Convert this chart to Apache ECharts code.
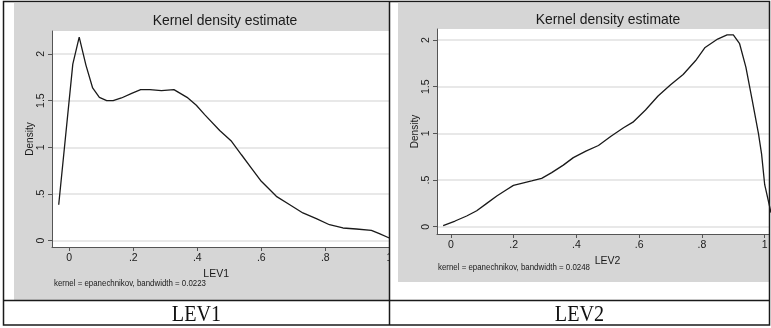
<!DOCTYPE html>
<html>
<head>
<meta charset="utf-8">
<script src="https://cdn.jsdelivr.net/npm/echarts@6/dist/echarts.min.js"></script>
<style>
  html, body { margin: 0; padding: 0; background: #fff; }
  #chart { width: 771px; height: 328px; }
</style>
</head>
<body>
<div id="chart"></div>
<script>
// Kernel density estimate of LEV1 (x = leverage, y = density)
const lev1X = [-0.033, 0.011, 0.031, 0.052, 0.073, 0.094, 0.117, 0.137, 0.163, 0.195,
               0.223, 0.252, 0.288, 0.327, 0.368, 0.397, 0.423, 0.47, 0.507, 0.538,
               0.569, 0.6, 0.647, 0.689, 0.73, 0.772, 0.813, 0.855, 0.897, 0.944,
               0.969, 1.0];
const lev1Y = [0.385, 1.89, 2.18, 1.88, 1.635, 1.535, 1.50, 1.50, 1.528, 1.578,
               1.617, 1.617, 1.606, 1.617, 1.535, 1.45, 1.35, 1.18, 1.064, 0.92,
               0.778, 0.636, 0.475, 0.385, 0.297, 0.236, 0.171, 0.136, 0.125, 0.111,
               0.075, 0.029];

// Kernel density estimate of LEV2
const lev2X = [-0.025, 0.013, 0.05, 0.082, 0.114, 0.146, 0.172, 0.199, 0.225, 0.257,
               0.289, 0.321, 0.358, 0.39, 0.43, 0.47, 0.51, 0.55, 0.58, 0.62,
               0.66, 0.70, 0.74, 0.78, 0.81, 0.85, 0.88, 0.90, 0.92, 0.94,
               0.96, 0.98, 0.99, 1.0, 1.02];
const lev2Y = [0.011, 0.061, 0.115, 0.171, 0.25, 0.329, 0.386, 0.443, 0.465, 0.49,
               0.518, 0.579, 0.66, 0.74, 0.81, 0.87, 0.97, 1.06, 1.12, 1.25,
               1.40, 1.52, 1.63, 1.78, 1.92, 2.01, 2.055, 2.055, 1.96, 1.71,
               1.36, 1.0, 0.78, 0.45, 0.15];

// Tick values shown on the axes
const xTicks = [0, 0.2, 0.4, 0.6, 0.8, 1];
const yTicks = [0, 0.5, 1, 1.5, 2];

// Text
const panelTitle = 'Kernel density estimate';
const yName = 'Density';
const note1 = 'kernel = epanechnikov, bandwidth = 0.0223';
const note2 = 'kernel = epanechnikov, bandwidth = 0.0248';
const captions = ['LEV1', 'LEV2'];

const SANS = '"Liberation Sans", Arial, sans-serif';
const SERIF = '"Liberation Serif", "Times New Roman", serif';
const INK = '#1a1a1a';
const AXIS = '#555';
const PANEL = '#d6d6d6';

// Stata-style tick text: drop the leading zero (".2", "1.5")
const fmt = v => String(v).replace(/^0\./, '.').replace(/^-0\./, '-.');

function xAxisOf(gridIndex, min, max, name, pad) {
  return {
    type: 'value', gridIndex, min, max,
    name, nameLocation: 'middle', nameGap: 15,
    nameTextStyle: { fontFamily: SANS, fontSize: 10.5, color: INK, padding: pad },
    axisLine: { show: true, onZero: false, lineStyle: { color: AXIS, width: 1 } },
    axisTick: { show: true, length: 4, lineStyle: { color: AXIS }, customValues: xTicks },
    axisLabel: { fontFamily: SANS, fontSize: 10.5, color: INK, margin: 6, formatter: fmt, customValues: xTicks },
    splitLine: { show: false }
  };
}

function yAxisOf(gridIndex, min, max) {
  return {
    type: 'value', gridIndex, min, max,
    name: yName, nameLocation: 'middle', nameGap: 16,
    nameTextStyle: { fontFamily: SANS, fontSize: 10, color: INK },
    axisLine: { show: true, onZero: false, lineStyle: { color: AXIS, width: 1 } },
    axisTick: { show: true, length: 4, lineStyle: { color: AXIS }, customValues: yTicks },
    axisLabel: { fontFamily: SANS, fontSize: 10.5, color: INK, margin: 5, rotate: 90, formatter: fmt, customValues: yTicks },
    splitLine: { show: true, lineStyle: { color: '#e0e0e0', width: 1.5 } }
  };
}

// Condensed text drawn by the graphic component (scaled about its anchor)
function textAt(x, y, text, font, size, align, sx, fill) {
  return {
    type: 'text', z: 101, silent: true, x, y, scaleX: sx, originX: 0, originY: 0,
    style: { text, fontFamily: font, fontSize: size, fill, align, verticalAlign: 'middle' }
  };
}

const chart = echarts.init(document.getElementById('chart'), null, { renderer: 'canvas' });

chart.setOption({
  animation: false,
  backgroundColor: '#fff',
  grid: [
    { left: 52, top: 31, width: 337.3, height: 216, show: true, backgroundColor: '#fff', borderWidth: 0 },
    { left: 437, top: 29, right: 2, bottom: 94, show: true, backgroundColor: '#fff', borderWidth: 0 }
  ],
  xAxis: [
    xAxisOf(0, -0.054, 1.0, captions[0], [0, 9, 0, 0]),
    xAxisOf(1, -0.0446, 1.0137, captions[1], [0, 0, 0, 9])
  ],
  yAxis: [
    yAxisOf(0, -0.0675, 2.245),
    yAxisOf(1, -0.078, 2.118)
  ],
  series: [
    {
      type: 'line', xAxisIndex: 0, yAxisIndex: 0,
      data: lev1X.map((x, i) => [x, lev1Y[i]]),
      showSymbol: false, clip: true,
      lineStyle: { color: INK, width: 1.3 }
    },
    {
      type: 'line', xAxisIndex: 1, yAxisIndex: 1,
      data: lev2X.map((x, i) => [x, lev2Y[i]]),
      showSymbol: false, clip: true,
      lineStyle: { color: INK, width: 1.3 }
    }
  ],
  graphic: [
    // panel backgrounds
    { type: 'rect', z: -10, silent: true, shape: { x: 14, y: 3, width: 375.5, height: 297 }, style: { fill: PANEL } },
    { type: 'rect', z: -10, silent: true, shape: { x: 398, y: 3, width: 371, height: 279 }, style: { fill: PANEL } },
    // white gutter at the start of the right cell
    { type: 'rect', z: 100, silent: true, shape: { x: 390, y: 2, width: 8, height: 298 }, style: { fill: '#fff' } },
    // panel titles
    textAt(225, 21, panelTitle, SANS, 14.5, 'center', 0.96, INK),
    textAt(608, 20, panelTitle, SANS, 14.5, 'center', 0.96, INK),
    // kernel notes
    textAt(54, 283, note1, SANS, 9.5, 'left', 0.83, INK),
    textAt(438, 267, note2, SANS, 9.5, 'left', 0.83, INK),
    // caption row
    textAt(196.5, 315, captions[0], SERIF, 24, 'center', 0.84, '#111'),
    textAt(579.5, 315, captions[1], SERIF, 24, 'center', 0.84, '#111'),
    // table rules
    { type: 'rect', z: 102, silent: true, shape: { x: 3.5, y: 1.5, width: 766, height: 323.5 }, style: { fill: null, stroke: '#1a1a1a', lineWidth: 1.5 } },
    { type: 'line', z: 102, silent: true, shape: { x1: 389.5, y1: 1.5, x2: 389.5, y2: 325 }, style: { stroke: '#1a1a1a', lineWidth: 1.5 } },
    { type: 'line', z: 102, silent: true, shape: { x1: 3.5, y1: 300.5, x2: 769.5, y2: 300.5 }, style: { stroke: '#1a1a1a', lineWidth: 1.5 } }
  ]
});
</script>
</body>
</html>
